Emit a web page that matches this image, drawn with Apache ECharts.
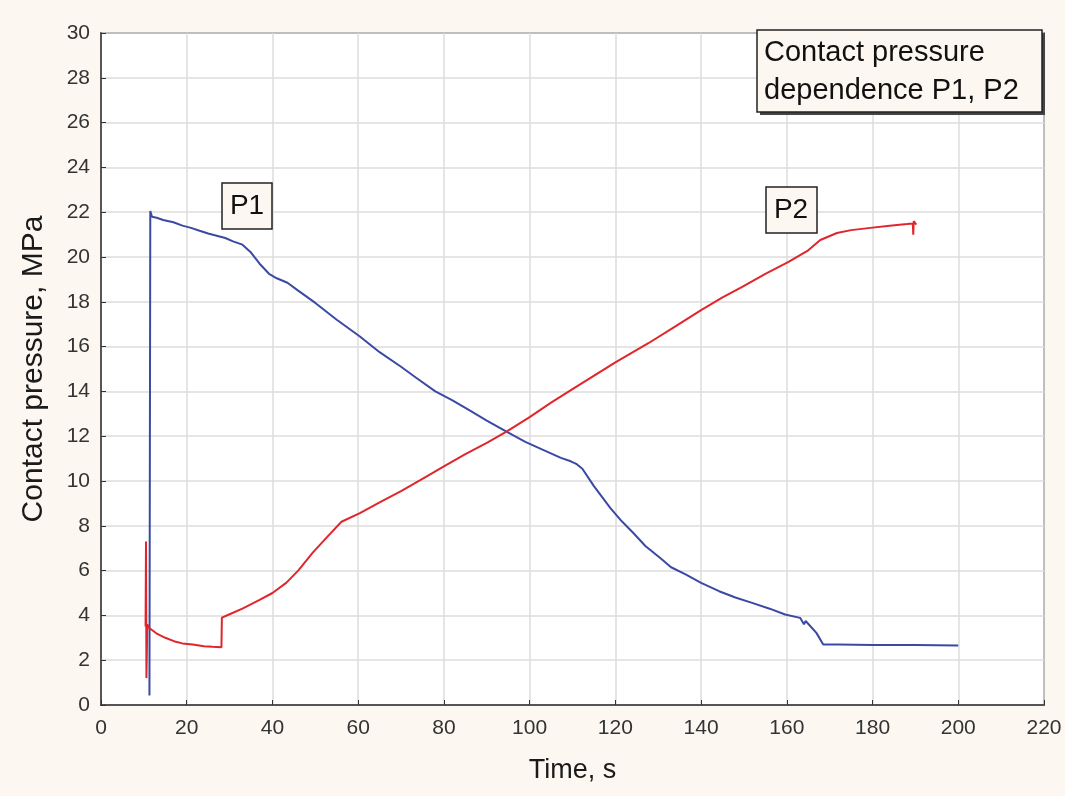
<!DOCTYPE html>
<html>
<head>
<meta charset="utf-8">
<style>
  html, body { margin: 0; padding: 0; background: #fcf8f1; }
  #chart { width: 1065px; height: 796px; }
</style>
<script src="https://cdn.jsdelivr.net/npm/echarts@6/dist/echarts.min.js"></script>
</head>
<body>
<div id="chart"></div>
<script>
// P1 readings (time in s, contact pressure in MPa)
const p1Time = [11.3, 11.5, 11.9, 13.0, 14.5, 16.9, 19.0, 21.0, 23.0, 25.0, 27.0, 29.0, 30.8, 33.0, 35.0, 37.0, 39.2, 41.0, 43.5, 46.0,
  50.0, 55.0, 60.4, 65.0, 70.0, 73.6, 78.0, 82.0, 86.0, 90.0, 94.6, 99.0, 103.0, 107.3, 109.6, 111.0, 112.3, 115.0, 118.8, 121.5,
  124.2, 127.0, 130.4, 133.0, 136.5, 140.0, 144.2, 148.0, 151.9, 156.0, 159.6, 163.1, 164.0, 164.4, 166.9, 168.5, 172.0, 180.0, 190.0, 200.0]
const p1Pressure = [0.42, 22.05, 21.8, 21.75, 21.65, 21.55, 21.4, 21.3, 21.17, 21.05, 20.95, 20.85, 20.7, 20.55, 20.2, 19.7, 19.25, 19.05, 18.85, 18.5,
  17.95, 17.2, 16.45, 15.75, 15.1, 14.6, 14.0, 13.6, 13.15, 12.7, 12.2, 11.75, 11.4, 11.03, 10.88, 10.75, 10.55, 9.77, 8.8, 8.2,
  7.68, 7.1, 6.57, 6.15, 5.82, 5.45, 5.08, 4.8, 4.56, 4.3, 4.04, 3.89, 3.6, 3.75, 3.22, 2.7, 2.7, 2.68, 2.68, 2.66]

// P2 readings
const p2Time = [10.4, 10.5, 10.6, 10.8, 11.2, 12.9, 15.0, 17.0, 19.0, 21.4, 24.0, 26.0, 28.1, 28.2, 30.0, 33.0, 37.0, 40.0, 43.2, 46.0,
  49.4, 53.0, 56.1, 60.4, 65.0, 70.0, 75.9, 80.0, 85.0, 90.0, 94.6, 100.0, 105.0, 110.0, 114.2, 120.0, 127.7, 134.0, 140.0, 145.0,
  149.6, 155.0, 160.4, 165.0, 167.8, 171.7, 175.0, 179.5, 184.0, 188.0, 189.4, 189.5, 189.6, 190.2]
const p2Pressure = [3.5, 7.3, 1.2, 3.6, 3.45, 3.2, 3.0, 2.85, 2.75, 2.7, 2.62, 2.6, 2.58, 3.9, 4.05, 4.3, 4.69, 5.0, 5.45, 6.0,
  6.8, 7.55, 8.18, 8.57, 9.05, 9.55, 10.2, 10.65, 11.2, 11.7, 12.2, 12.85, 13.5, 14.1, 14.6, 15.3, 16.15, 16.9, 17.63, 18.2,
  18.67, 19.25, 19.78, 20.3, 20.76, 21.07, 21.2, 21.3, 21.4, 21.47, 21.5, 21.0, 21.6, 21.45]

const zip = (xs, ys) => xs.map((x, i) => [x, ys[i]])

const chart = echarts.init(document.getElementById('chart'))

const boxStyle = { fill: '#fcf8f1', stroke: '#222', lineWidth: 1.5 }

chart.setOption({
  backgroundColor: '#fcf8f1',
  animation: false,
  grid: {
    left: 101,
    top: 33,
    right: 21,
    bottom: 91,
    show: true,
    backgroundColor: '#ffffff',
    borderColor: '#333',
    borderWidth: 1.5
  },
  xAxis: {
    type: 'value',
    min: 0,
    max: 220,
    interval: 20,
    name: 'Time, s',
    nameLocation: 'middle',
    nameGap: 52,
    nameTextStyle: { fontFamily: 'Liberation Sans, Arial', fontSize: 27, color: '#1a1a1a' },
    axisLine: { lineStyle: { color: '#333', width: 1.5 } },
    axisTick: { inside: true, length: 5, lineStyle: { color: '#333' } },
    axisLabel: { fontFamily: 'Liberation Sans, Arial', fontSize: 21, color: '#333', margin: 13 },
    splitLine: { lineStyle: { color: '#dcdcdc', width: 1.5 } }
  },
  yAxis: {
    type: 'value',
    min: 0,
    max: 30,
    interval: 2,
    name: 'Contact pressure, MPa',
    nameLocation: 'middle',
    nameGap: 52,
    nameTextStyle: { fontFamily: 'Liberation Sans, Arial', fontSize: 30, color: '#1a1a1a' },
    axisLine: { lineStyle: { color: '#333', width: 1.5 } },
    axisTick: { inside: true, length: 5, lineStyle: { color: '#333' } },
    axisLabel: { fontFamily: 'Liberation Sans, Arial', fontSize: 21, color: '#333', margin: 11 },
    splitLine: { lineStyle: { color: '#dcdcdc', width: 1.5 } }
  },
  series: [
    {
      name: 'P1',
      type: 'line',
      data: zip(p1Time, p1Pressure),
      showSymbol: false,
      lineStyle: { color: '#3a4aa3', width: 2 },
      z: 3
    },
    {
      name: 'P2',
      type: 'line',
      data: zip(p2Time, p2Pressure),
      showSymbol: false,
      lineStyle: { color: '#e0262c', width: 2 },
      z: 4
    }
  ],
  graphic: [
    // title box with shadow
    { type: 'rect', z: 100, shape: { x: 760, y: 33, width: 285, height: 82 }, style: { fill: '#444' } },
    { type: 'rect', z: 101, shape: { x: 757, y: 30, width: 285, height: 82 }, style: boxStyle },
    {
      type: 'text', z: 102, x: 764, y: 53,
      style: { text: 'Contact pressure', font: '29px "Liberation Sans", Arial', fill: '#111', verticalAlign: 'middle' }
    },
    {
      type: 'text', z: 102, x: 764, y: 91,
      style: { text: 'dependence P1, P2', font: '29px "Liberation Sans", Arial', fill: '#111', verticalAlign: 'middle' }
    },
    // curve labels
    { type: 'rect', z: 101, shape: { x: 222, y: 183, width: 50, height: 46 }, style: boxStyle },
    {
      type: 'text', z: 102, x: 247, y: 206,
      style: { text: 'P1', font: '28px "Liberation Sans", Arial', fill: '#111', align: 'center', verticalAlign: 'middle' }
    },
    { type: 'rect', z: 101, shape: { x: 766, y: 187, width: 51, height: 46 }, style: boxStyle },
    {
      type: 'text', z: 102, x: 791, y: 210,
      style: { text: 'P2', font: '28px "Liberation Sans", Arial', fill: '#111', align: 'center', verticalAlign: 'middle' }
    }
  ]
})
</script>
</body>
</html>
